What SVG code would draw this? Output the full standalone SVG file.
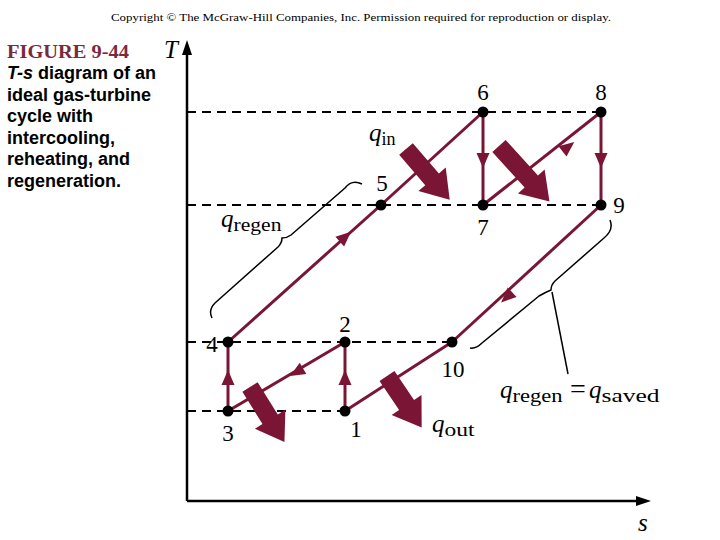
<svg xmlns="http://www.w3.org/2000/svg" xmlns:xlink="http://www.w3.org/1999/xlink" width="720" height="540" viewBox="0 0 720 540">
<style>
.proc{stroke:#7a1535;stroke-width:3;fill:none}
.dash{stroke:#000;stroke-width:2;stroke-dasharray:9,6;fill:none}
.axis{stroke:#000;stroke-width:2.5;fill:none}
.brace{stroke:#000;stroke-width:1.5;fill:none}
.dot{fill:#000}
.num{font-family:"Liberation Serif",serif;font-size:23px;fill:#000;text-anchor:middle}
.lbl{font-family:"Liberation Serif",serif;font-size:25px;fill:#000}
.q{font-style:italic}
.sub{font-size:18px}
.heat{fill:#7a1535}
.cap{font-family:"Liberation Sans",Arial,sans-serif;font-weight:bold;font-size:18px;fill:#000}
</style>
<defs>
<path id="ah" d="M8,0 L-7,-6.5 L-7,6.5 Z" fill="#7a1535"/>
</defs>
<rect width="720" height="540" fill="#fff"/>
<text x="111" y="21" font-family="'Liberation Serif',serif" font-size="11" textLength="500" lengthAdjust="spacingAndGlyphs">Copyright © The McGraw-Hill Companies, Inc. Permission required for reproduction or display.</text>
<g id="caption">
<text x="7" y="58" font-family="'Liberation Serif',serif" font-weight="bold" font-size="19" fill="#7b2a3e" textLength="122" lengthAdjust="spacingAndGlyphs">FIGURE 9-44</text>
<text class="cap" x="7" y="79"><tspan font-style="italic">T-s</tspan> diagram of an</text>
<text class="cap" x="7" y="101">ideal gas-turbine</text>
<text class="cap" x="7" y="122">cycle with</text>
<text class="cap" x="7" y="144">intercooling,</text>
<text class="cap" x="7" y="165">reheating, and</text>
<text class="cap" x="7" y="187">regeneration.</text>
</g>
<g id="axes">
<path class="axis" d="M187,501 L187,52 M187,501 L640,501"/>
<path d="M187,40 L182,55 L192,55 Z" fill="#000"/>
<path d="M651,501 L636,496 L636,506 Z" fill="#000"/>
<text class="lbl q" x="164" y="58">T</text>
<text class="lbl q" x="638" y="531">s</text>
</g>
<g id="isotherms">
<path class="dash" d="M187,112 L601,112 M187,205 L601,205 M187,342 L452,342 M187,411 L345,411"/>
</g>
<g id="connectors">
<path class="proc" d="M345,411 L345,342"/>
<path class="proc" d="M345,342 L228,411"/>
<path class="proc" d="M228,411 L228,342"/>
<path class="proc" d="M228,342 L381,205 L483,112"/>
<path class="proc" d="M483,112 L483,205"/>
<path class="proc" d="M483,205 L601,112"/>
<path class="proc" d="M601,112 L601,205"/>
<path class="proc" d="M601,205 L452,342"/>
<path class="proc" d="M452,342 L345,411"/>
<use xlink:href="#ah" transform="translate(345,378) rotate(-90)"/>
<use xlink:href="#ah" transform="translate(228,378) rotate(-90)"/>
<use xlink:href="#ah" transform="translate(297,372) rotate(149.5)"/>
<use xlink:href="#ah" transform="translate(345,237) rotate(-41.8)"/>
<use xlink:href="#ah" transform="translate(483,160) rotate(90)"/>
<use xlink:href="#ah" transform="translate(601,160) rotate(90)"/>
<use xlink:href="#ah" transform="translate(568,147) rotate(-38.2)"/>
<use xlink:href="#ah" transform="translate(507,297) rotate(137.4)"/>
</g>
<g id="heat-arrows">
<path class="heat" transform="translate(406,149) rotate(49.3)" d="M0,-9 L40,-9 L40,-18 L67,0 L40,18 L40,9 L0,9 Z"/>
<path class="heat" transform="translate(499,146) rotate(47.7)" d="M0,-9 L48,-9 L48,-18 L75,0 L48,18 L48,9 L0,9 Z"/>
<path class="heat" transform="translate(250,387) rotate(58)" d="M0,-9 L38,-9 L38,-18 L65,0 L38,18 L38,9 L0,9 Z"/>
<path class="heat" transform="translate(387,376) rotate(56)" d="M0,-9 L35,-9 L35,-18 L62,0 L35,18 L35,9 L0,9 Z"/>
</g>
<g id="braces">
<path class="brace" d="M362,184 Q352,179 345,188 L291,235 Q287,238 282,238 Q282,243 278,247 L215,303 Q208,310 212,318"/>
<path class="brace" d="M610,220 Q614,230 604,238 L555,281 Q551,285 551,290 Q546,292 539,296 L482,343 Q476,349 470,348"/>
<path class="brace" d="M552,292 L568,374"/>
</g>
<g id="p1"><circle class="dot" cx="345" cy="411" r="5.5"/><text class="num" x="356" y="437">1</text></g>
<g id="p2"><circle class="dot" cx="345" cy="342" r="5.5"/><text class="num" x="345" y="332">2</text></g>
<g id="p3"><circle class="dot" cx="228" cy="411" r="5.5"/><text class="num" x="228" y="441">3</text></g>
<g id="p4"><circle class="dot" cx="228" cy="342" r="5.5"/><text class="num" x="212" y="352">4</text></g>
<g id="p5"><circle class="dot" cx="381" cy="205" r="5.5"/><text class="num" x="382" y="191">5</text></g>
<g id="p6"><circle class="dot" cx="483" cy="112" r="5.5"/><text class="num" x="483" y="100">6</text></g>
<g id="p7"><circle class="dot" cx="483" cy="205" r="5.5"/><text class="num" x="483" y="235">7</text></g>
<g id="p8"><circle class="dot" cx="601" cy="112" r="5.5"/><text class="num" x="601" y="100">8</text></g>
<g id="p9"><circle class="dot" cx="601" cy="205" r="5.5"/><text class="num" x="619" y="213">9</text></g>
<g id="p10"><circle class="dot" cx="452" cy="342" r="5.5"/><text class="num" x="453" y="377">10</text></g>
<g id="labels">
<text class="lbl" x="369" y="141"><tspan class="q">q</tspan><tspan class="sub" dy="4">in</tspan></text>
<text class="lbl" x="221" y="227"><tspan class="q">q</tspan><tspan class="sub" dy="4" textLength="48" lengthAdjust="spacingAndGlyphs">regen</tspan></text>
<text class="lbl" x="432" y="432"><tspan class="q">q</tspan><tspan class="sub" dy="4" textLength="30" lengthAdjust="spacingAndGlyphs">out</tspan></text>
<text class="lbl" x="500" y="398"><tspan class="q">q</tspan><tspan class="sub" dy="4" textLength="50" lengthAdjust="spacingAndGlyphs">regen</tspan><tspan x="570" dy="-4" font-size="28">=</tspan><tspan class="q" x="589">q</tspan><tspan class="sub" dy="4" textLength="58" lengthAdjust="spacingAndGlyphs">saved</tspan></text>
</g>
</svg>
